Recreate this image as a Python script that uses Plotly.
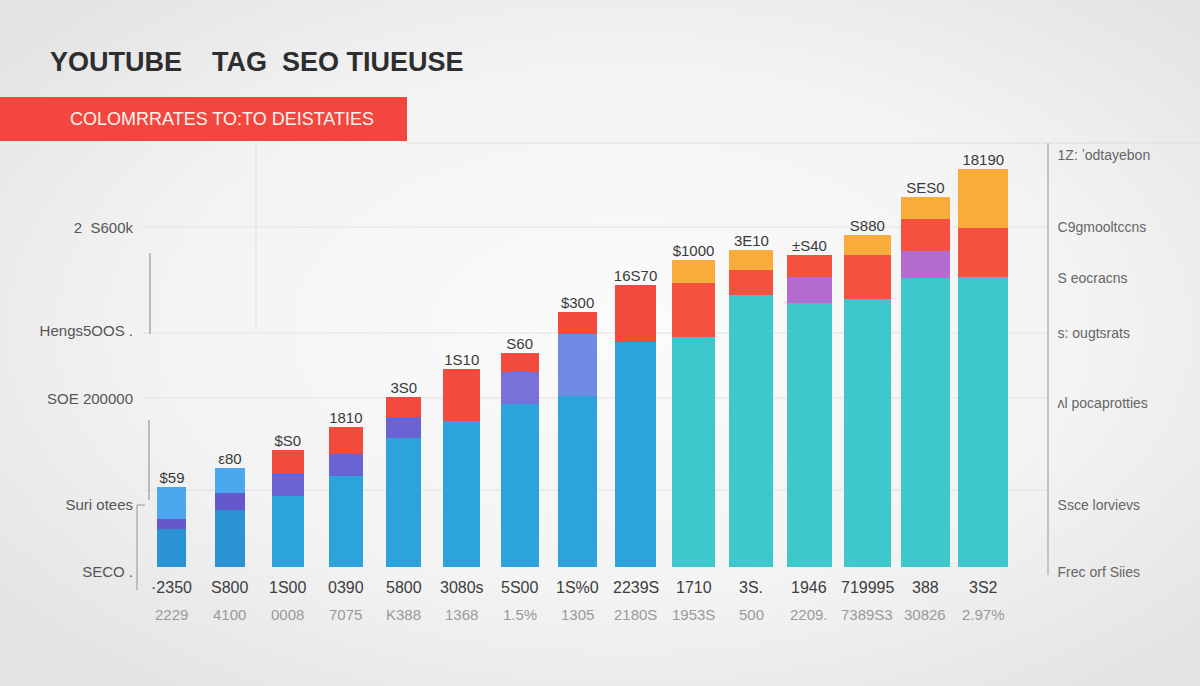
import base64

import plotly.graph_objects as go

# ---- values (stack heights, bottom to top) ----
categories = ["·2350", "S800", "1S00", "0390", "5800", "3080s", "5S00", "1S%0",
              "2239S", "1710", "3S.", "1946", "719995", "388", "3S2"]
sublabels = ["2229", "4100", "0008", "7075", "K388", "1368", "1.5%", "1305",
             "2180S", "1953S", "500", "2209.", "7389S3", "30826", "2.97%"]
value_labels = ["$59", "ε80", "$S0", "1810", "3S0", "1S10", "S60", "$300",
                "16S70", "$1000", "3E10", "±S40", "S880", "SES0", "18190"]

base = [38, 57, 71, 91, 129, 146, 163, 171, 225, 230, 272, 264, 268, 289, 290]
purple = [10, 17, 23, 22, 21, 0, 32, 62, 0, 0, 0, 26, 0, 27, 0]
light = [32, 25, 0, 0, 0, 0, 0, 0, 0, 0, 0, 0, 0, 0, 0]
red = [0, 0, 23, 27, 20, 52, 19, 22, 57, 54, 25, 22, 44, 32, 49]
orange = [0, 0, 0, 0, 0, 0, 0, 0, 0, 23, 20, 0, 20, 22, 59]

left_tick_vals = [339, 236, 168, 62, -5]
left_tick_text = ["2\u00a0\u00a0S600k", "Hengs5OOS .", "SOE 200000", "Suri otees", "SECO ."]
right_tick_vals = [412, 340, 289, 234, 164, 62, -5]
right_tick_text = ["1Z: ʼodtayebon", "C9gmooltccns", "S eocracns", "s: ougtsrats",
                   "ʌl pocaprotties", "Ssce lorvievs", "Frec orf Siies"]

# ---- layout constants ----
FIG_W, FIG_H = 1200, 686
M_L, M_R, M_T, M_B = 143, 153, 143, 111
PLOT_W = FIG_W - M_L - M_R
PLOT_H = FIG_H - M_T - M_B
FONT = "Liberation Sans, Arial, sans-serif"


def px_x(p):
    return (p - M_L) / PLOT_W


def px_y(p):
    return (FIG_H - M_B - p) / PLOT_H


n = len(categories)
xs = list(range(n))
totals = [b + p + l + r + o for b, p, l, r, o in zip(base, purple, light, red, orange)]

# bars get a bit wider towards the right, like the reference
bar_widths = [0.5 + 0.026 * i for i in range(n)]

base_colors = ["#2a93d3"] * 2 + ["#2ca3da"] * 7 + ["#3fc8cb"] * 6
purple_colors = ["#6458cc"] * 2 + ["#6a63d4"] * 3 + ["#7a70da"] * 2 + ["#6f8ae2"] \
    + ["#b56cd1"] * 7
red_colors = ["#f24b3d"] * 9 + ["#f4513f"] * 6

fig = go.Figure()

stack = [
    ("base", base, base_colors),
    ("purple", purple, purple_colors),
    ("light", light, "#4ba8ef"),
    ("red", red, red_colors),
    ("orange", orange, "#f9ab3b"),
]
for name, vals, color in stack:
    fig.add_trace(go.Bar(
        x=xs, y=vals, name=name, width=bar_widths,
        marker=dict(color=color, line=dict(width=0)),
        hoverinfo="skip",
    ))

fig.add_trace(go.Scatter(
    x=xs, y=totals, mode="text", text=value_labels,
    textposition="top center",
    textfont=dict(family=FONT, size=15, color="#3a3a3a"),
    hoverinfo="skip",
))

# invisible trace so the right-hand axis gets drawn
fig.add_trace(go.Scatter(x=[0], y=[0], yaxis="y2", mode="markers",
                         marker=dict(opacity=0), hoverinfo="skip"))

annotations = []
for i, (top, bottom) in enumerate(zip(categories, sublabels)):
    annotations.append(dict(x=i, y=0, xref="x", yref="y", text=top, showarrow=False,
                            yshift=-20, font=dict(family=FONT, size=16, color="#3d3d3d")))
    annotations.append(dict(x=i, y=0, xref="x", yref="y", text=bottom, showarrow=False,
                            yshift=-47, font=dict(family=FONT, size=15, color="#9a9a9a")))

annotations.append(dict(
    x=px_x(48), y=px_y(62), xref="paper", yref="paper", xanchor="left", yanchor="middle",
    text="<b>YOUTUBE\u00a0\u00a0\u00a0\u00a0TAG\u00a0\u00a0SEO TIUEUSE</b>", showarrow=False,
    font=dict(family=FONT, size=27, color="#2e2e2e"),
))
annotations.append(dict(
    x=px_x(68), y=px_y(119), xref="paper", yref="paper", xanchor="left", yanchor="middle",
    text="COLOMRRATES TO:TO DEISTATIES", showarrow=False,
    font=dict(family=FONT, size=18, color="#fff3f0"),
))


def hline(y, x0, x1, color, width=1):
    return dict(type="line", xref="paper", yref="paper", x0=px_x(x0), x1=px_x(x1),
                y0=px_y(y), y1=px_y(y), line=dict(color=color, width=width), layer="below")


def vline(x, y0, y1, color, width=1):
    return dict(type="line", xref="paper", yref="paper", x0=px_x(x), x1=px_x(x),
                y0=px_y(y0), y1=px_y(y1), line=dict(color=color, width=width), layer="below")


shapes = [
    dict(type="rect", xref="paper", yref="paper", x0=px_x(0), x1=px_x(407),
         y0=px_y(141), y1=px_y(97), fillcolor="#f3463e", line=dict(width=0)),
    hline(143, 407, 1200, "#dcdcdc"),
    vline(256, 143, 330, "#e0e0e0"),
]
for gy in (227, 333, 398, 490):
    shapes.append(hline(gy, 143, 1047, "#e2e2e2"))
shapes += [
    vline(150, 253, 334, "#a8a8a8", 1.5),
    vline(149, 420, 500, "#a8a8a8", 1.5),
    vline(137, 505, 590, "#b0b0b0", 1.5),
    hline(505, 137, 145, "#b0b0b0", 1.5),
]

svg = (
    "<svg xmlns='http://www.w3.org/2000/svg' width='1200' height='686' "
    "preserveAspectRatio='none'><defs><radialGradient id='g' cx='52%' cy='48%' r='65%'>"
    "<stop offset='0' stop-color='#fbfbfb'/><stop offset='0.6' stop-color='#f3f3f3'/>"
    "<stop offset='1' stop-color='#e4e4e4'/></radialGradient></defs>"
    "<rect width='1200' height='686' fill='url(#g)'/></svg>"
)
bg_src = "data:image/svg+xml;base64," + base64.b64encode(svg.encode()).decode()

fig.update_layout(
    width=FIG_W, height=FIG_H,
    margin=dict(l=M_L, r=M_R, t=M_T, b=M_B),
    barmode="stack",
    showlegend=False,
    paper_bgcolor="#efefef",
    plot_bgcolor="rgba(0,0,0,0)",
    font=dict(family=FONT),
    xaxis=dict(range=[-0.5, 15.1], visible=False, fixedrange=True),
    yaxis=dict(range=[-8, 424], tickvals=left_tick_vals, ticktext=left_tick_text,
               showgrid=False, zeroline=False, showline=False, ticks="",
               ticklabelstandoff=9, tickfont=dict(size=15, color="#555555")),
    yaxis2=dict(range=[-8, 424], overlaying="y", side="right",
                tickvals=right_tick_vals, ticktext=right_tick_text,
                showgrid=False, zeroline=False, showline=True, linecolor="#c4c4c4",
                linewidth=1.5, ticks="", ticklabelstandoff=6,
                tickfont=dict(size=14, color="#666666")),
    annotations=annotations,
    shapes=shapes,
    images=[dict(source=bg_src, xref="paper", yref="paper", x=px_x(0), y=px_y(0),
                 sizex=FIG_W / PLOT_W, sizey=FIG_H / PLOT_H, sizing="stretch",
                 xanchor="left", yanchor="top", layer="below")],
)

fig.write_html("out.html", config={"displayModeBar": False},
               post_script="document.body.style.margin='0';")
